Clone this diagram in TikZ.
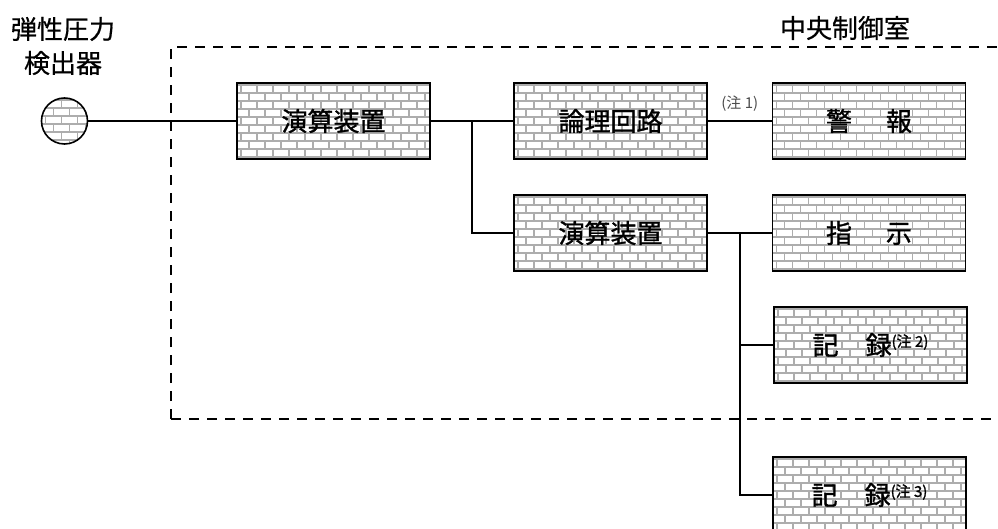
\documentclass[tikz,border=0pt]{standalone}
\usepackage{fontspec}
\setmainfont{Noto Sans CJK JP}
\newfontfamily\notefont{Noto Sans CJK JP}
\newfontfamily\boxfont[FakeBold=1.2]{Noto Sans CJK JP}
\newfontfamily\titlefont[FakeBold=0.6]{Noto Sans CJK JP}
\begin{document}
\begin{tikzpicture}[x=1pt,y=-1pt,
  brickline/.style={draw=black!32, line width=1.1pt},
  bricks/.style={path picture={
    \coordinate (pnw) at (path picture bounding box.north west);
    \foreach \r in {0,...,12}{
      \draw[brickline] ([shift={(-2,\r*8+2)}]pnw) -- ++(245,0);
      \pgfmathsetmacro\off{mod(\r,2)*8}
      \foreach \c in {0,...,15}{
        \draw[brickline] ([shift={(\c*16+\off+4,\r*8+2)}]pnw) -- ++(0,8);
      }
    }
  }},
  box/.style={draw, line width=1.6pt, fill=white, bricks, minimum width=193pt,
    minimum height=76pt, inner sep=0pt, font=\fontsize{26pt}{30pt}\boxfont},
  sensor/.style={circle, draw, line width=1.6pt, fill=white, bricks, minimum size=46pt, inner sep=0pt},
  conn/.style={line width=1.6pt},
  frame/.style={line width=2.2pt, dash pattern=on 10pt off 8pt},
  lbl/.style={font=\fontsize{26pt}{30pt}\titlefont, align=center, inner sep=0pt},
  note/.style={font=\fontsize{15pt}{17pt}\notefont, text=black!70, inner sep=0pt},
  supnote/.style={font=\fontsize{15pt}{17pt}\boxfont}
]
\useasboundingbox (0,0) rectangle (998,529);
% frame of the control room
\draw[frame] (171,419) -- (171,47) -- (1010,47);
\draw[frame] (171,419) -- (1010,419);

% titles
\node[lbl] (t1) at (63,29) {弾性圧力};
\node[lbl] (t2) at (63,63) {検出器};
\node[lbl] (t3) at (845,28) {中央制御室};

% nodes
\node[sensor] (s) at (64.5,121) {};
\node[box] (a1) at (333.5,121) {演算装置};
\node[box] (lg) at (610.5,121) {論理回路};
\node[box] (al) at (869,121) {警\hspace{34pt}報};
\node[box] (a2) at (610.5,233) {演算装置};
\node[box] (in) at (869,233) {指\hspace{34pt}示};
\node[box] (r2) at (870.5,345) {記\hspace{27pt}録\raisebox{8pt}{\fontsize{15pt}{17pt}\selectfont (注 2)}};
\node[box] (r3) at (869.5,495) {記\hspace{27pt}録\raisebox{8pt}{\fontsize{15pt}{17pt}\selectfont (注 3)}};

% junctions
\coordinate (j1) at (472,121);
\coordinate (j2) at (740,233);

% connectors
\draw[conn] (s) -- (a1);
\draw[conn] (a1) -- (lg);
\draw[conn] (j1) |- (a2.west);
\draw[conn] (lg) -- node[note, above=9pt] {(注 1)} (al);
\draw[conn] (a2) -- (in);
\draw[conn] (j2) |- (r2.west);
\draw[conn] (j2) |- (r3.west);
\end{tikzpicture}
\end{document}
